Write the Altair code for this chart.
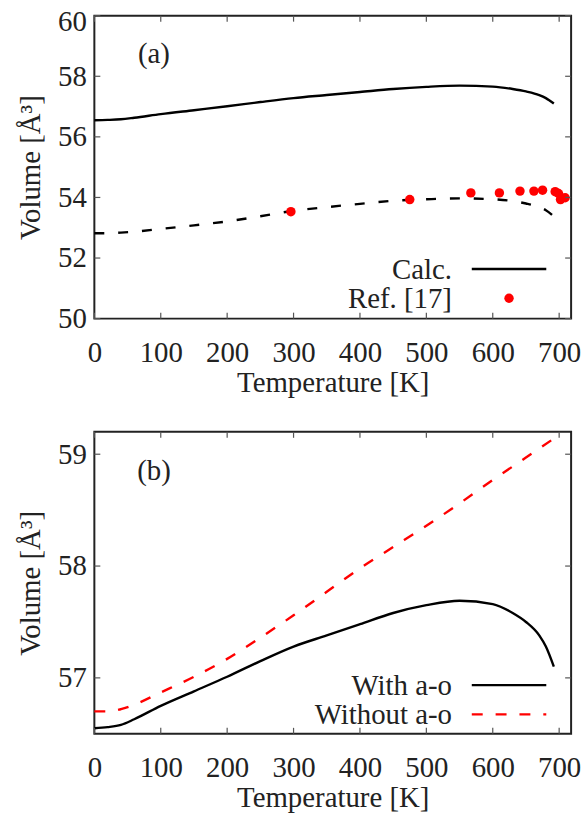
import altair as alt
import pandas as pd

# ---- data ----
T_grid = [0, 20, 40, 60, 100, 150, 200, 250, 300, 350, 400, 450, 500, 550, 600, 630, 650, 670, 680, 692]
V_calc = [56.55, 56.56, 56.58, 56.63, 56.75, 56.88, 57.01, 57.15, 57.28, 57.38, 57.48, 57.58, 57.65, 57.69,
          57.66, 57.58, 57.50, 57.38, 57.28, 57.10]
V_calc_dash = [52.82, 52.82, 52.84, 52.87, 52.96, 53.08, 53.21, 53.38, 53.56, 53.68, 53.79, 53.89, 53.94, 53.97,
               53.94, 53.88, 53.80, 53.68, 53.58, 53.37]
T_ref = [296, 475, 567, 610, 641, 662, 675, 694, 699, 702, 709]
V_ref = [53.53, 53.93, 54.15, 54.15, 54.21, 54.21, 54.24, 54.19, 54.13, 53.93, 53.99]

T_wo = [0, 20, 40, 60, 100, 150, 200, 250, 300, 350, 400, 450, 500, 550, 600, 650, 692]
V_wo = [56.70, 56.70, 56.72, 56.76, 56.87, 57.01, 57.17, 57.36, 57.56, 57.77, 57.98, 58.17, 58.36, 58.56,
        58.77, 58.97, 59.14]

x_ticks = [0, 100, 200, 300, 400, 500, 600, 700]
y_ticks_a = [50, 52, 54, 56, 58, 60]
y_ticks_b = [57, 58, 59]

FONT = "Liberation Serif"
FS = 29
W = 480
TK = 6


def panel(lines, points, ydom, yticks, H, label, leg):
    xs = alt.Scale(domain=[0, 718], nice=False, zero=False)
    ys = alt.Scale(domain=ydom, nice=False, zero=False)
    xax = alt.Axis(values=x_ticks, ticks=False, domain=False, grid=False, labelPadding=20,
                   labelFlush=False, title="Temperature [K]", titlePadding=1)
    yax = alt.Axis(values=yticks, ticks=False, domain=False, grid=False, labelPadding=8,
                   title="Volume [Å³]", titlePadding=12, format="d",
                   labelOffset=alt.condition("datum.value == 60", alt.value(6), alt.value(0)))
    layers = []
    first = True
    for (tv, vv, color, dash) in lines:
        df = pd.DataFrame({"T": tv, "V": vv})
        mk = alt.Chart(df).mark_line(color=color, strokeWidth=2.4, interpolate="monotone",
                                     **({"strokeDash": dash} if dash else {}))
        if first:
            mk = mk.encode(x=alt.X("T:Q", scale=xs, axis=xax), y=alt.Y("V:Q", scale=ys, axis=yax))
            first = False
        else:
            mk = mk.encode(x=alt.X("T:Q", scale=xs), y=alt.Y("V:Q", scale=ys))
        layers.append(mk)
    if points:
        dfp = pd.DataFrame({"T": points[0], "V": points[1]})
        layers.append(alt.Chart(dfp).mark_circle(color="#ff0000", size=90, opacity=1).encode(
            x=alt.X("T:Q", scale=xs), y=alt.Y("V:Q", scale=ys)))
    # inward ticks
    dx = pd.DataFrame({"t": x_ticks})
    dy = pd.DataFrame({"v": yticks})
    tick_style = dict(color="#555", strokeWidth=1.2)
    layers.append(alt.Chart(dx).mark_rule(**tick_style).encode(
        x=alt.X("t:Q", scale=xs), y=alt.value(H), y2=alt.value(H - TK)))
    layers.append(alt.Chart(dx).mark_rule(**tick_style).encode(
        x=alt.X("t:Q", scale=xs), y=alt.value(0), y2=alt.value(TK)))
    layers.append(alt.Chart(dy).mark_rule(**tick_style).encode(
        y=alt.Y("v:Q", scale=ys), x=alt.value(0), x2=alt.value(TK)))
    layers.append(alt.Chart(dy).mark_rule(**tick_style).encode(
        y=alt.Y("v:Q", scale=ys), x=alt.value(W), x2=alt.value(W - TK)))
    # panel label
    layers.append(alt.Chart(pd.DataFrame({"s": [label]})).mark_text(
        font=FONT, fontSize=FS, color="#222", align="center", baseline="middle").encode(
        text="s:N", x=alt.value(60), y=alt.value(39)))
    # legend
    for i, (name, kind, color, dash) in enumerate(leg):
        yy = 255 + i * 29.5
        layers.append(alt.Chart(pd.DataFrame({"s": [name]})).mark_text(
            font=FONT, fontSize=FS, color="#222", align="right", baseline="middle").encode(
            text="s:N", x=alt.value(360), y=alt.value(yy + 1)))
        if kind == "line":
            layers.append(alt.Chart(pd.DataFrame({"s": [name]})).mark_rule(
                color=color, strokeWidth=2.4, **({"strokeDash": dash} if dash else {})).encode(
                x=alt.value(380), x2=alt.value(455), y=alt.value(yy)))
        else:
            layers.append(alt.Chart(pd.DataFrame({"s": [name]})).mark_point(
                color=color, filled=True, size=90, shape="circle", opacity=1).encode(
                x=alt.value(417.5), y=alt.value(yy)))
    return alt.layer(*layers).properties(width=W, height=H)


pa = panel(
    [(T_grid, V_calc, "#000000", None), (T_grid, V_calc_dash, "#000000", [10, 14])],
    (T_ref, V_ref), [50, 60], y_ticks_a, 305, "(a)",
    [("Calc.", "line", "#000000", None), ("Ref. [17]", "point", "#ff0000", None)])

pb = panel(
    [(T_grid, V_calc, "#000000", None), (T_wo, V_wo, "#ff0000", [11, 13])],
    None, [56.5, 59.2], y_ticks_b, 304, "(b)",
    [("With a-o", "line", "#000000", None), ("Without a-o", "line", "#ff0000", [11, 13])])

chart = alt.vconcat(pa, pb, spacing=32, background="white").properties(
    padding={"left": 16, "top": 4, "right": 5, "bottom": 5}
).configure_view(stroke="#222", strokeWidth=2).configure_axis(
    labelFont=FONT, titleFont=FONT, labelFontSize=FS, titleFontSize=FS,
    labelColor="#222", titleColor="#222", titleFontWeight="normal"
)

chart.save("out.html", embed_options={"renderer": "svg", "actions": False})
